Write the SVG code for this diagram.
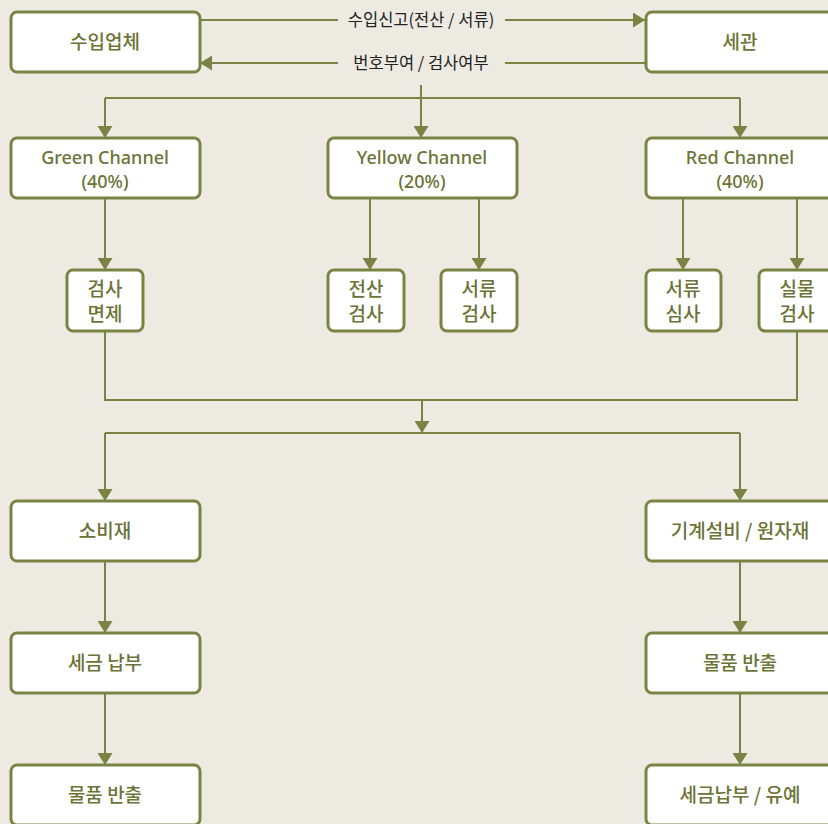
<svg xmlns="http://www.w3.org/2000/svg" width="828" height="824" viewBox="0 0 828 824">
<defs>
<marker id="ah" viewBox="0 0 12 15" refX="12" refY="7.5" markerWidth="12" markerHeight="15" markerUnits="userSpaceOnUse" orient="auto"><path d="M0,0 L12,7.5 L0,15 Z" fill="#7b8344"/></marker>
<style>
.box{fill:#ffffff;stroke:#7b8344;stroke-width:3}
.t{font-family:"Noto Sans CJK KR","Noto Sans",sans-serif;font-size:19px;font-weight:500;fill:#6b7336;text-anchor:middle}
.te{font-family:"Noto Sans","Noto Sans CJK KR",sans-serif;font-size:18px;font-weight:500;fill:#6b7336;text-anchor:middle}
.lbl{font-family:"Noto Sans CJK KR",sans-serif;font-size:16.5px;fill:#222;text-anchor:middle}
.c{fill:none;stroke:#7b8344;stroke-width:2}
.ca{fill:none;stroke:#7b8344;stroke-width:2;marker-end:url(#ah)}
</style>
</defs>
<rect width="828" height="824" fill="#edeae2"/>
<g id="connectors">
<path class="c" d="M200,20 H338"/>
<path class="ca" d="M505,20 H645"/>
<path class="c" d="M645,63 H505"/>
<path class="ca" d="M338,63 H200"/>
<text class="lbl" x="421" y="26">수입신고(전산 / 서류)</text>
<text class="lbl" x="421" y="69">번호부여 / 검사여부</text>
<path class="c" d="M421,85 V98"/>
<path class="ca" d="M421,98 V138"/>
<path class="c" d="M105,98 H740"/>
<path class="ca" d="M105,98 V138"/>
<path class="ca" d="M740,98 V138"/>
<path class="ca" d="M105,198 V270"/>
<path class="ca" d="M370,198 V270"/>
<path class="ca" d="M479,198 V270"/>
<path class="ca" d="M683,198 V270"/>
<path class="ca" d="M797,198 V270"/>
<path class="c" d="M105,331 V400 H797 V331"/>
<path class="ca" d="M422,400 V433"/>
<path class="c" d="M105,433 H740"/>
<path class="ca" d="M105,433 V501"/>
<path class="ca" d="M740,433 V501"/>
<path class="ca" d="M105,561 V633"/>
<path class="ca" d="M740,561 V633"/>
<path class="ca" d="M105,693 V765"/>
<path class="ca" d="M740,693 V765"/>
</g>
<g id="importer"><rect class="box" x="11" y="12" width="189" height="60" rx="6"/><text class="t" x="105" y="49">수입업체</text></g>
<g id="customs"><rect class="box" x="646" y="12" width="189" height="60" rx="6"/><text class="t" x="740" y="49">세관</text></g>
<g id="green"><rect class="box" x="11" y="138" width="189" height="60" rx="6"/><text class="te" x="105" y="164">Green Channel</text><text class="te" x="105" y="188">(40%)</text></g>
<g id="yellow"><rect class="box" x="328" y="138" width="189" height="60" rx="6"/><text class="te" x="422" y="164">Yellow Channel</text><text class="te" x="422" y="188">(20%)</text></g>
<g id="red"><rect class="box" x="646" y="138" width="189" height="60" rx="6"/><text class="te" x="740" y="164">Red Channel</text><text class="te" x="740" y="188">(40%)</text></g>
<g id="exempt"><rect class="box" x="67" y="270" width="76" height="61" rx="6"/><text class="t" x="105" y="296">검사</text><text class="t" x="105" y="321">면제</text></g>
<g id="edi"><rect class="box" x="328" y="270" width="76" height="61" rx="6"/><text class="t" x="366" y="296">전산</text><text class="t" x="366" y="321">검사</text></g>
<g id="doc"><rect class="box" x="441" y="270" width="76" height="61" rx="6"/><text class="t" x="479" y="296">서류</text><text class="t" x="479" y="321">검사</text></g>
<g id="docreview"><rect class="box" x="646" y="270" width="75" height="61" rx="6"/><text class="t" x="683" y="296">서류</text><text class="t" x="683" y="321">심사</text></g>
<g id="physical"><rect class="box" x="759" y="270" width="76" height="61" rx="6"/><text class="t" x="797" y="296">실물</text><text class="t" x="797" y="321">검사</text></g>
<g id="consumer"><rect class="box" x="11" y="501" width="189" height="60" rx="6"/><text class="t" x="105" y="538">소비재</text></g>
<g id="machinery"><rect class="box" x="646" y="501" width="189" height="60" rx="6"/><text class="t" x="740" y="538">기계설비 / 원자재</text></g>
<g id="taxpay"><rect class="box" x="11" y="633" width="189" height="60" rx="6"/><text class="t" x="105" y="670">세금 납부</text></g>
<g id="release2"><rect class="box" x="646" y="633" width="189" height="60" rx="6"/><text class="t" x="740" y="670">물품 반출</text></g>
<g id="release1"><rect class="box" x="11" y="765" width="189" height="60" rx="6"/><text class="t" x="105" y="802">물품 반출</text></g>
<g id="taxdefer"><rect class="box" x="646" y="765" width="189" height="60" rx="6"/><text class="t" x="740" y="802">세금납부 / 유예</text></g>
</svg>
